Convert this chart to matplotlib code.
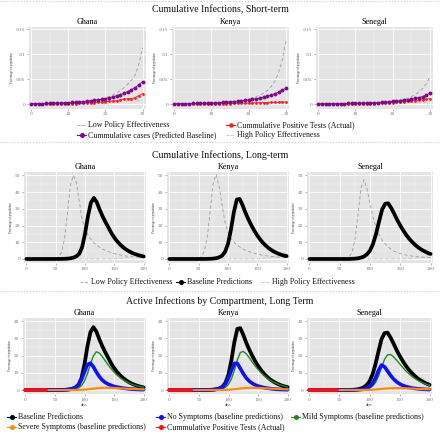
import numpy as np
import matplotlib
matplotlib.use("Agg")
import matplotlib.pyplot as plt
from matplotlib.lines import Line2D

plt.rcParams['font.family'] = ['Liberation Serif', 'DejaVu Serif']

countries = ["Ghana", "Kenya", "Senegal"]

# ---- short-term data (days 0..30, share of population in %) ----
st_days = list(range(31))

st_baseline = {
    "Ghana": [0.00007, 0.00008, 0.00009, 0.0001, 0.00012, 0.00014, 0.00016, 0.00018, 0.00021, 0.00024,
              0.00028, 0.00032, 0.00036, 0.00042, 0.00048, 0.00055, 0.00063, 0.00072, 0.00083, 0.00095,
              0.0011, 0.00126, 0.00145, 0.00166, 0.0019, 0.0022, 0.0025, 0.0029, 0.0033, 0.0039,
              0.0045],
    "Kenya": [0.00006, 0.00007, 0.00008, 0.00009, 0.0001, 0.00011, 0.00013, 0.00015, 0.00017, 0.00019,
              0.00022, 0.00025, 0.00029, 0.00033, 0.00038, 0.00044, 0.0005, 0.00057, 0.00065, 0.00074,
              0.00084, 0.00095, 0.00108, 0.00122, 0.00138, 0.00157, 0.0018, 0.0021, 0.0024, 0.0028,
              0.0032],
    "Senegal": [0.00004, 0.00005, 0.00005, 0.00006, 0.00007, 0.00008, 0.00009, 0.0001, 0.00011, 0.00012,
                0.00014, 0.00016, 0.00018, 0.0002, 0.00023, 0.00026, 0.0003, 0.00034, 0.00039, 0.00045,
                0.00052, 0.0006, 0.00068, 0.00077, 0.00088, 0.001, 0.00114, 0.0013, 0.0015, 0.0018,
                0.0022],
}
st_actual = {
    "Ghana": [0, 0, 0, 0, 0, 0, 0, 0.00001, 0.00002, 0.00003,
              0.00005, 0.00007, 0.0001, 0.00013, 0.00016, 0.0002, 0.00025, 0.0003, 0.00035, 0.0004,
              0.00048, 0.00055, 0.0006, 0.0007, 0.00085, 0.001, 0.00105, 0.0011, 0.0013, 0.0017,
              0.0021],
    "Kenya": [0, 0, 0, 0, 0, 0, 0, 0, 0.00001, 0.00002,
              0.00003, 0.00004, 0.00005, 0.00006, 0.00008, 0.0001, 0.00012, 0.00014, 0.00016, 0.00018,
              0.0002, 0.00022, 0.00024, 0.00026, 0.00028, 0.0003, 0.00032, 0.00034, 0.00036, 0.00038,
              0.0004],
    "Senegal": [0, 0, 0, 0, 0, 0, 0, 0, 0.00001, 0.00002,
                0.00003, 0.00004, 0.00005, 0.00006, 0.00008, 0.0001, 0.00013, 0.00016, 0.0002, 0.00025,
                0.0003, 0.00036, 0.00042, 0.00048, 0.00055, 0.00062, 0.0007, 0.00078, 0.00087, 0.00097,
                0.0011],
}
st_low = {
    "Ghana": [0.00007, 0.00008, 0.00009, 0.0001, 0.00012, 0.00014, 0.00016, 0.00019, 0.00022, 0.00026,
              0.0003, 0.00034, 0.00039, 0.00045, 0.00052, 0.0006, 0.0007, 0.0008, 0.00092, 0.00106,
              0.00125, 0.0015, 0.0018, 0.0022, 0.0027, 0.0033, 0.004, 0.0048, 0.0058, 0.008,
              0.0113],
    "Kenya": [0.00006, 0.00007, 0.00008, 0.00009, 0.0001, 0.00012, 0.00014, 0.00016, 0.00018, 0.00021,
              0.00024, 0.00028, 0.00032, 0.00037, 0.00043, 0.0005, 0.00058, 0.00067, 0.00078, 0.0009,
              0.00105, 0.00125, 0.0015, 0.0018, 0.0022, 0.0027, 0.0035, 0.0046, 0.0063, 0.0089,
              0.0128],
    "Senegal": [0.00004, 0.00005, 0.00005, 0.00006, 0.00007, 0.00008, 0.00009, 0.0001, 0.00012, 0.00013,
                0.00015, 0.00017, 0.0002, 0.00023, 0.00026, 0.0003, 0.00035, 0.0004, 0.00047, 0.00055,
                0.00064, 0.00075, 0.00088, 0.00103, 0.0012, 0.0015, 0.0019, 0.0024, 0.0031, 0.0041,
                0.0054],
}
st_high = {
    "Ghana": [0.00007, 0.00008, 0.00009, 0.0001, 0.00012, 0.00014, 0.00016, 0.00018, 0.0002, 0.00023,
              0.00026, 0.00029, 0.00032, 0.00035, 0.00038, 0.00041, 0.00044, 0.00047, 0.0005, 0.00052,
              0.00054, 0.00056, 0.00058, 0.0006, 0.00061, 0.00062, 0.00063, 0.00064, 0.00065, 0.00066,
              0.00067],
    "Kenya": [0.00006, 0.00007, 0.00008, 0.00009, 0.0001, 0.00011, 0.00012, 0.00014, 0.00016, 0.00018,
              0.0002, 0.00022, 0.00024, 0.00026, 0.00028, 0.0003, 0.00031, 0.00032, 0.00033, 0.00034,
              0.00035, 0.00036, 0.00037, 0.00038, 0.00039, 0.0004, 0.0004, 0.00041, 0.00041, 0.00042,
              0.00042],
    "Senegal": [0.00004, 0.00005, 0.00005, 0.00006, 0.00007, 0.00008, 0.00009, 0.0001, 0.00011, 0.00012,
                0.00013, 0.00014, 0.00015, 0.00016, 0.00017, 0.00018, 0.00019, 0.0002, 0.00021, 0.00022,
                0.00023, 0.00024, 0.00025, 0.00026, 0.00027, 0.00028, 0.00029, 0.0003, 0.0003, 0.00031,
                0.00031],
}

# ---- long-term data (every 5 days, 0..200, % of population) ----
lt_days = list(range(0, 201, 5))

lt_baseline = {
    "Ghana": [0, 0, 0, 0, 0, 0, 0, 0, 0, 0,
              0.01, 0.02, 0.05, 0.1, 0.2, 0.4, 0.8, 1.5, 3.0, 7.0,
              15.0, 25.5, 33.5, 36.5, 34.0, 29.5, 25.5, 22.0, 18.8, 15.5,
              12.8, 10.5, 8.6, 7.0, 5.7, 4.6, 3.7, 3.0, 2.4, 1.9,
              1.5],
    "Kenya": [0, 0, 0, 0, 0, 0, 0, 0, 0, 0,
              0.01, 0.01, 0.03, 0.06, 0.12, 0.25, 0.5, 1.0, 2.0, 4.3,
              9.0, 17.5, 28.0, 35.5, 35.9, 32.0, 27.5, 23.5, 20.0, 16.8,
              14.0, 11.6, 9.5, 7.8, 6.3, 5.1, 4.1, 3.3, 2.6, 2.1,
              1.7],
    "Senegal": [0, 0, 0, 0, 0, 0, 0, 0, 0, 0,
                0, 0, 0, 0, 0.1, 0.2, 0.4, 0.8, 1.5, 2.8,
                5.0, 9.0, 15.0, 22.5, 29.5, 33.0, 33.3, 30.5, 27.0, 23.3,
                20.0, 17.0, 14.3, 12.0, 10.0, 8.3, 6.8, 5.6, 4.6, 3.7,
                3.0],
}
lt_low = {
    "Ghana": [0, 0, 0, 0, 0, 0, 0, 0, 0, 0.1,
              0.3, 1.2, 4.0, 12.0, 27.0, 44.0, 50.0, 46.0, 35.0, 24.0,
              18.0, 14.5, 11.8, 9.8, 8.3, 7.0, 6.0, 5.1, 4.4, 3.8,
              3.2, 2.8, 2.4, 2.1, 1.8, 1.6, 1.4, 1.2, 1.1, 1.0,
              0.9],
    "Kenya": [0, 0, 0, 0, 0, 0, 0, 0, 0, 0.1,
              0.4, 1.5, 5.0, 14.0, 30.0, 46.0, 50.5, 43.0, 32.0, 22.0,
              16.0, 12.5, 10.2, 8.5, 7.2, 6.1, 5.2, 4.5, 3.9, 3.4,
              2.9, 2.5, 2.2, 1.9, 1.7, 1.5, 1.3, 1.15, 1.0, 0.9,
              0.8],
    "Senegal": [0, 0, 0, 0, 0, 0, 0, 0, 0, 0,
                0, 0.05, 0.2, 1.0, 3.5, 11.0, 26.0, 42.0, 47.4, 42.0,
                33.0, 25.0, 19.0, 14.5, 11.3, 9.0, 7.2, 5.8, 4.7, 3.9,
                3.2, 2.7, 2.3, 2.0, 1.7, 1.5, 1.3, 1.1, 1.0, 0.9,
                0.8],
}
lt_high = {
    "Ghana": [0, 0, 0, 0, 0, 0, 0, 0, 0, 0,
              0, 0, 0, 0, 0, 0, 0, 0, 0, 0,
              0, 0, 0, 0, 0, 0, 0, 0, 0, 0,
              0.1, 0.2, 0.3, 0.5, 0.7, 1.0, 1.3, 1.7, 2.3, 3.0,
              3.8],
    "Kenya": [0, 0, 0, 0, 0, 0, 0, 0, 0, 0,
              0, 0, 0, 0, 0, 0, 0, 0, 0, 0,
              0, 0, 0, 0, 0, 0, 0, 0, 0, 0,
              0.1, 0.15, 0.25, 0.4, 0.6, 0.85, 1.1, 1.5, 2.0, 2.6,
              3.3],
    "Senegal": [0, 0, 0, 0, 0, 0, 0, 0, 0, 0,
                0, 0, 0, 0, 0, 0, 0, 0, 0, 0,
                0, 0, 0, 0, 0, 0, 0, 0, 0, 0,
                0.05, 0.1, 0.15, 0.25, 0.35, 0.5, 0.7, 1.0, 1.4, 1.9,
                2.5],
}
lt_nosym = {
    "Ghana": [0, 0, 0, 0, 0, 0, 0, 0, 0, 0,
              0, 0, 0, 0.1, 0.2, 0.4, 0.8, 1.6, 3.2, 6.2,
              10.5, 14.8, 15.6, 13.5, 10.5, 7.8, 5.8, 4.4, 3.4, 2.7,
              2.1, 1.7, 1.4, 1.1, 0.9, 0.7, 0.55, 0.45, 0.35, 0.28,
              0.22],
    "Kenya": [0, 0, 0, 0, 0, 0, 0, 0, 0, 0,
              0, 0, 0, 0, 0.1, 0.2, 0.45, 0.9, 1.8, 3.6,
              7.0, 11.5, 15.5, 15.4, 12.5, 9.5, 7.0, 5.2, 3.9, 3.0,
              2.3, 1.8, 1.4, 1.1, 0.85, 0.65, 0.5, 0.4, 0.3, 0.25,
              0.2],
    "Senegal": [0, 0, 0, 0, 0, 0, 0, 0, 0, 0,
                0, 0, 0, 0, 0, 0, 0.1, 0.25, 0.5, 1.0,
                2.0, 3.8, 7.0, 11.5, 14.5, 13.5, 11.0, 8.5, 6.4, 4.8,
                3.6, 2.7, 2.1, 1.6, 1.2, 0.95, 0.75, 0.6, 0.45, 0.35,
                0.28],
}
lt_mild = {
    "Ghana": [0, 0, 0, 0, 0, 0, 0, 0, 0, 0,
              0, 0, 0, 0, 0.05, 0.15, 0.3, 0.6, 1.3, 2.6,
              5.2, 9.5, 15.0, 19.8, 22.2, 21.5, 19.5, 17.0, 14.6, 12.4,
              10.4, 8.7, 7.2, 6.0, 5.0, 4.1, 3.4, 2.8, 2.3, 1.9,
              1.6],
    "Kenya": [0, 0, 0, 0, 0, 0, 0, 0, 0, 0,
              0, 0, 0, 0, 0, 0.1, 0.2, 0.4, 0.8, 1.6,
              3.3, 6.5, 11.5, 17.5, 21.8, 22.4, 21.0, 18.8, 16.3, 14.0,
              11.9, 10.0, 8.4, 7.0, 5.8, 4.8, 4.0, 3.3, 2.7, 2.2,
              1.8],
    "Senegal": [0, 0, 0, 0, 0, 0, 0, 0, 0, 0,
                0, 0, 0, 0, 0, 0, 0, 0.1, 0.25, 0.5,
                1.1, 2.2, 4.3, 8.0, 13.0, 17.8, 20.4, 20.6, 19.3, 17.4,
                15.3, 13.2, 11.3, 9.6, 8.1, 6.8, 5.7, 4.8, 4.0, 3.3,
                2.8],
}
lt_severe = {
    "Ghana": [0, 0, 0, 0, 0, 0, 0, 0, 0, 0,
              0, 0, 0, 0, 0, 0.02, 0.03, 0.05, 0.1, 0.15,
              0.25, 0.4, 0.6, 0.8, 1.0, 1.2, 1.3, 1.35, 1.33, 1.28,
              1.2, 1.1, 1.0, 0.9, 0.8, 0.72, 0.64, 0.56, 0.5, 0.44,
              0.39],
    "Kenya": [0, 0, 0, 0, 0, 0, 0, 0, 0, 0,
              0, 0, 0, 0, 0, 0, 0.02, 0.03, 0.06, 0.1,
              0.18, 0.3, 0.45, 0.65, 0.88, 1.08, 1.22, 1.3, 1.32, 1.28,
              1.22, 1.13, 1.04, 0.94, 0.85, 0.76, 0.68, 0.6, 0.53, 0.47,
              0.42],
    "Senegal": [0, 0, 0, 0, 0, 0, 0, 0, 0, 0,
                0, 0, 0, 0, 0, 0, 0, 0.02, 0.04, 0.07,
                0.12, 0.2, 0.3, 0.45, 0.62, 0.78, 0.92, 1.02, 1.08, 1.1,
                1.08, 1.04, 0.98, 0.91, 0.84, 0.77, 0.7, 0.63, 0.57, 0.51,
                0.46],
}
lt_actual_days = {
    "Ghana": [0, 5, 10, 15, 20, 25, 30, 35],
    "Kenya": [0, 5, 10, 15, 20, 25, 30, 35, 37],
    "Senegal": [0, 5, 10, 15, 20, 25, 30, 35, 40, 46],
}
lt_actual = {
    "Ghana": [0, 0, 0, 0, 0, 0, 0.001, 0.002],
    "Kenya": [0, 0, 0, 0, 0, 0, 0, 0.0003, 0.0004],
    "Senegal": [0, 0, 0, 0, 0, 0, 0, 0, 0.0005, 0.0011],
}

# ---- layout (pixel boxes: x0, top, x1, bottom) ----
W, H = 440, 434
row1_boxes = [(29, 27, 145.5, 108.5), (172, 27, 289, 108.5), (316, 27, 433, 108.5)]
row2_boxes = [(24, 172, 146, 263), (167, 172, 289, 263), (307, 172, 433, 263)]
row3_boxes = [(23, 318, 146, 394), (167, 318, 290, 394), (307, 318, 432, 394)]

PANEL = '#e4e4e4'
PURPLE = '#7d0a87'
LOW = '#9a9a9a'
HIGH = '#c4c4c4'

fig = plt.figure(figsize=(W / 100, H / 100), dpi=100, facecolor='white')


def fx(px):
    return px / W


def fy(py):
    return 1 - py / H


def make_ax(box):
    x0, t, x1, b = box
    ax = fig.add_axes([fx(x0), fy(b), fx(x1 - x0), (b - t) / H])
    ax.set_facecolor(PANEL)
    for s in ax.spines.values():
        s.set_visible(False)
    ax.grid(True, which='major', color='white', lw=0.6)
    ax.grid(True, which='minor', color='#f2f2f2', lw=0.35)
    ax.set_axisbelow(True)
    ax.tick_params(which='major', labelsize=3.8, colors='#777777', length=1.5, width=0.4, pad=1.2)
    ax.tick_params(which='minor', length=0)
    ax.set_ylabel('Percentage of population', fontsize=2.2, labelpad=1.5, color='#333333')
    return ax


def title_text(y_px, txt, size):
    fig.text(0.5, fy(y_px), txt, ha='center', va='center', fontsize=size, color='#111111')


def key(x_px, y_px, txt, color, ls='-', marker=None, lw=0.8, ms=2.5):
    fig.add_artist(Line2D([fx(x_px), fx(x_px + 9)], [fy(y_px), fy(y_px)], transform=fig.transFigure,
                          color=color, ls=ls, lw=lw))
    if marker:
        fig.add_artist(Line2D([fx(x_px + 4.5)], [fy(y_px)], transform=fig.transFigure,
                              color=color, marker=marker, ms=ms, ls='none'))
    fig.text(fx(x_px + 11), fy(y_px), txt, ha='left', va='center', fontsize=5.7, color='#111111')


# faint dotted separators (cropped page remnants)
for yy in [1, 142, 291]:
    fig.add_artist(Line2D([0, 1], [fy(yy), fy(yy)], transform=fig.transFigure,
                          color='#c8c8c8', ls=':', lw=0.8))

# ---- row 1: short term ----
title_text(9.5, 'Cumulative Infections, Short-term', 7.1)
for c, box in zip(countries, row1_boxes):
    ax = make_ax(box)
    ax.plot(st_days, st_low[c], color=LOW, ls='--', lw=0.6, dashes=(4, 3))
    ax.plot(st_days, st_high[c], color=HIGH, ls='--', lw=0.6, dashes=(4, 3))
    ax.plot(st_days, st_actual[c], color='#ff1a1a', lw=0.6, marker='o', ms=2.0, mec='none')
    ax.plot(st_days, st_baseline[c], color=PURPLE, lw=0.6, marker='o', ms=2.8, mec='none')
    ax.set_xlim(-0.6, 30.8)
    ax.set_ylim(-0.0009, 0.0155)
    ax.set_xticks([0, 10, 20, 30])
    ax.set_xticks([5, 15, 25], minor=True)
    ax.set_yticks([0, 0.005, 0.01, 0.015])
    ax.set_yticks([0.0025, 0.0075, 0.0125], minor=True)
    ax.set_yticklabels(['0', '.005', '.01', '.015'])
    ax.set_title(c, fontsize=5.9, pad=2.5)

key(77, 125, 'Low Policy Effectiveness', LOW, ls='--', lw=0.6)
key(77, 135, 'Cummulative cases (Predicted Baseline)', PURPLE, marker='o', ms=2.6)
key(226, 125, 'Cummulative Positive Tests (Actual)', '#ff1a1a', marker='o', ms=2.2)
key(226, 135, 'High Policy Effectiveness', HIGH, ls='--', lw=0.6)

# ---- row 2: long term ----
title_text(155, 'Cumulative Infections, Long-term', 7.1)
for c, box in zip(countries, row2_boxes):
    ax = make_ax(box)
    ax.plot(lt_days, lt_low[c], color=LOW, ls='--', lw=0.6, dashes=(4, 3))
    ax.plot(lt_days, lt_high[c], color=HIGH, ls='--', lw=0.6, dashes=(4, 3))
    ax.plot(lt_days, lt_baseline[c], color='black', lw=2.7, solid_capstyle='round')
    ax.set_xlim(-4, 204)
    ax.set_ylim(-2.4, 52)
    ax.set_xticks([0, 50, 100, 150, 200])
    ax.set_xticks([25, 75, 125, 175], minor=True)
    ax.set_yticks([0, 10, 20, 30, 40, 50])
    ax.set_yticks([5, 15, 25, 35, 45], minor=True)
    ax.set_title(c, fontsize=5.9, pad=2.5)

key(80, 282, 'Low Policy Effectiveness', LOW, ls='--', lw=0.6)
key(176, 282, 'Baseline Predictions', 'black', marker='o', ms=2.6)
key(261, 282, 'High Policy Effectiveness', HIGH, ls='--', lw=0.6)

# ---- row 3: compartments ----
title_text(301, 'Active Infections by Compartment, Long Term', 7.1)
for c, box in zip(countries, row3_boxes):
    ax = make_ax(box)
    ax.plot(lt_days, lt_baseline[c], color='black', lw=2.7, solid_capstyle='round')
    ax.plot(lt_days, lt_mild[c], color='#1f8a1f', lw=1.0)
    ax.plot(lt_days, lt_nosym[c], color='#1010ff', lw=2.6, solid_capstyle='round')
    ax.plot(lt_days, lt_severe[c], color='#ff8c00', lw=1.6)
    ax.plot(lt_actual_days[c], lt_actual[c], color='#ff1010', lw=2.6, solid_capstyle='round')
    ax.set_xlim(-4, 204)
    ax.set_ylim(-2.3, 41.8)
    ax.set_xticks([0, 50, 100, 150, 200])
    ax.set_xticks([25, 75, 125, 175], minor=True)
    ax.set_yticks([0, 10, 20, 30, 40])
    ax.set_yticks([5, 15, 25, 35], minor=True)
    ax.set_xlabel('days', fontsize=2.5, labelpad=1, color='#333333')
    ax.set_title(c, fontsize=5.9, pad=2.5)

key(7, 417, 'Baseline Predictions', 'black', marker='o', ms=2.6)
key(7, 427, 'Severe Symptoms (baseline predictions)', '#ff8c00', marker='o', ms=2.6)
key(156, 417, 'No Symptoms (baseline predictions)', '#1010ff', marker='o', ms=2.6)
key(156, 427, 'Cummulative Positive Tests (Actual)', '#ff1010', marker='o', ms=2.6)
key(291, 417, 'Mild Symptoms (baseline predictions)', '#1f8a1f', marker='o', ms=2.6)

fig.savefig('out.png', dpi=100, facecolor='white')
